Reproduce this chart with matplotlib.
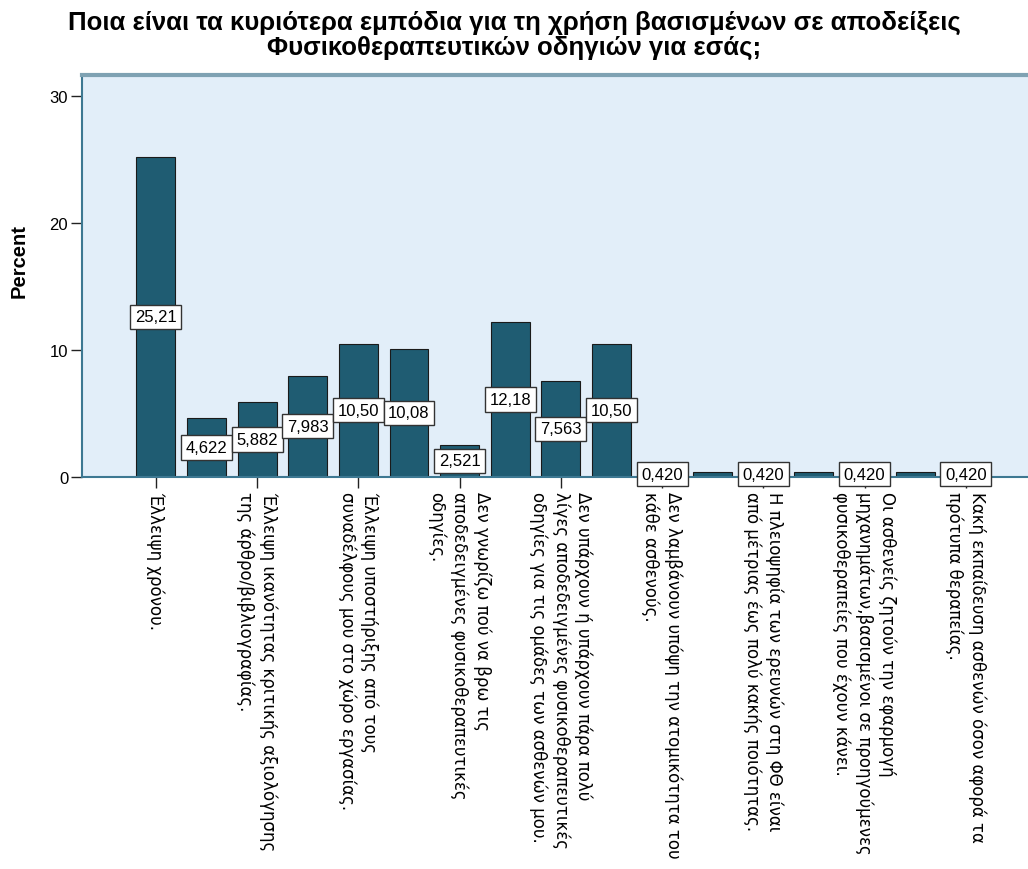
import math
import matplotlib

matplotlib.use("Agg")
import matplotlib.pyplot as plt

# Percent of respondents per barrier (17 categories, n = 238)
percents = [25.21, 4.622, 5.882, 7.983, 10.50, 10.08, 2.521, 12.18, 7.563, 10.50,
            0.420, 0.420, 0.420, 0.420, 0.420, 0.420, 0.420]

# SPSS only prints every other category label
tick_labels = [
    "Έλλειψη χρόνου.",
    "Έλλειψη ικανότητας κριτικής αξιολόγησης\nτης άρθρο/βιβλιογραφίας.",
    "Έλλειψη υποστήριξης από τους\nσυναδέλφους μου στο χώρο εργασίας.",
    "Δεν γνωρίζω πού να βρω τις\nαποδεδειγμένες φυσικοθεραπευτικές\nοδηγίες.",
    "Δεν υπάρχουν ή υπάρχουν πάρα πολύ\nλίγες αποδεδειγμένες φυσικοθεραπευτικές\nοδηγίες για τις ομάδες των ασθενών μου.",
    "Δεν λαμβάνουν υπόψη την ατομικότητα του\nκάθε ασθενούς.",
    "Η πλειοψηφία των ερευνών στη ΦΘ είναι\nαπό μέτριας έως πολύ κακής ποιότητας.",
    "Οι ασθενείς ζητούν την εφαρμογή\nμηχανημάτων,βασισμένοι σε προηγούμενες\nφυσικοθεραπείες που έχουν κάνει.",
    "Κακή εκπαίδευση ασθενών όσον αφορά τα\nπρότυπα θεραπείας.",
]

title = "Ποια είναι τα κυριότερα εμπόδια για τη χρήση βασισμένων σε αποδείξεις\nΦυσικοθεραπευτικών οδηγιών για εσάς;"

BAR = "#1f5c72"
BG = "#e2eef9"
SPINE = "#3d7892"


def fmt(v):
    # SPSS style: 4 significant digits, comma decimal, at most 3 decimals
    dec = min(3, 3 - int(math.floor(math.log10(v))))
    return f"{v:.{dec}f}".replace(".", ",")


fig = plt.figure(figsize=(10.28, 8.70), dpi=100)
ax = fig.add_axes([0.0798, 0.4506, 0.9202, 0.4621])
ax.set_facecolor(BG)

x = list(range(len(percents)))
ax.bar(x, percents, width=0.77, color=BAR, edgecolor="#1a1a1a", linewidth=0.8, zorder=2)

prev_shown = None
for i, v in enumerate(percents):
    if prev_shown is not None and prev_shown == (i - 1, v):
        prev_shown = None
        continue
    ax.text(i, v / 2, fmt(v), ha="center", va="center", fontsize=12,
            family="Liberation Sans", zorder=4,
            bbox=dict(boxstyle="square,pad=0.28", fc="white", ec="#333333", lw=1.0))
    prev_shown = (i, v)

ax.set_xlim(-1.46, 17.23)
ax.set_ylim(0, 31.65)
ax.set_yticks([0, 10, 20, 30])
ax.set_yticklabels(["0", "10", "20", "30"], fontsize=12, family="Liberation Sans")
ax.set_xticks(x[::2])
ax.set_xticklabels(tick_labels, rotation=270, fontsize=12, family="DejaVu Sans",
                   ha="center", va="top", multialignment="left", linespacing=1.3)
ax.tick_params(axis="both", length=8, width=1, color="#222222", pad=2)

for side in ("left", "bottom"):
    ax.spines[side].set_color(SPINE)
    ax.spines[side].set_linewidth(1.5)
ax.spines["top"].set_color("#7fa2b3")
ax.spines["top"].set_linewidth(3)
ax.spines["right"].set_visible(False)

ax.set_ylabel("Percent", fontsize=14.5, fontweight="bold", family="Liberation Sans")
ax.yaxis.set_label_coords(-0.056, 0.54)
fig.suptitle(title, y=0.987, fontsize=18.5, fontweight="bold", family="Liberation Sans",
             linespacing=1.0)

fig.savefig("out.png", dpi=100)
